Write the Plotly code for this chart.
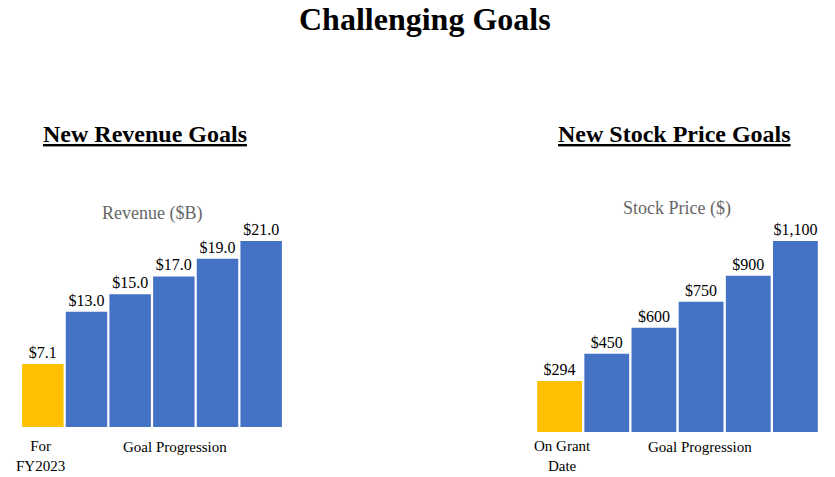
import plotly.graph_objects as go

W, H = 835, 477

rev_cats = ["FY2023", "G1", "G2", "G3", "G4", "G5"]
rev_vals = [7.1, 13.0, 15.0, 17.0, 19.0, 21.0]
stock_cats = ["Grant", "S1", "S2", "S3", "S4", "S5"]
stock_vals = [294, 450, 600, 750, 900, 1100]

YELLOW = "#FFC000"
BLUE = "#4472C4"
FONT = "Liberation Serif"

rev_colors = [YELLOW] + [BLUE] * (len(rev_vals) - 1)
stock_colors = [YELLOW] + [BLUE] * (len(stock_vals) - 1)


def fx(px):
    return px / W


def fy(py):
    return (H - py) / H


fig = go.Figure()
fig.add_trace(go.Bar(
    x=rev_cats, y=rev_vals, marker=dict(color=rev_colors, line=dict(width=0)),
    texttemplate="$%{y:.1f}", textposition="outside", cliponaxis=False,
    textfont=dict(family=FONT, size=16, color="black"),
    xaxis="x", yaxis="y", hoverinfo="skip"))
fig.add_trace(go.Bar(
    x=stock_cats, y=stock_vals, marker=dict(color=stock_colors, line=dict(width=0)),
    texttemplate="$%{y:,.0f}", textposition="outside", cliponaxis=False,
    textfont=dict(family=FONT, size=16, color="black"),
    xaxis="x2", yaxis="y2", hoverinfo="skip"))

axis_common = dict(showgrid=False, zeroline=False, showticklabels=False,
                   showline=False, ticks="", fixedrange=True)

fig.update_layout(
    width=W, height=H, margin=dict(l=0, r=0, t=0, b=0),
    paper_bgcolor="white", plot_bgcolor="white",
    showlegend=False, bargap=0.05,
    xaxis=dict(domain=[fx(21), fx(283)], range=[-0.5, 5.5], anchor="y", **axis_common),
    yaxis=dict(domain=[fy(427), fy(241)], range=[0, 21], anchor="x", **axis_common),
    xaxis2=dict(domain=[fx(536), fx(819)], range=[-0.5, 5.5], anchor="y2", **axis_common),
    yaxis2=dict(domain=[fy(432), fy(241)], range=[0, 1100], anchor="x2", **axis_common),
)

ann = []


def add_text(text, x, y, size, color="black", bold=False, underline=False):
    font = dict(family=FONT, size=size, color=color)
    if underline:
        font["lineposition"] = "under"
    ann.append(dict(text=("<b>%s</b>" % text) if bold else text,
                    x=fx(x), y=fy(y), xref="paper", yref="paper",
                    xanchor="center", yanchor="middle", showarrow=False, font=font))


add_text("Challenging Goals", 425, 19, 32, bold=True)
add_text("New Revenue Goals", 145, 134, 24, bold=True, underline=True)
add_text("New Stock Price Goals", 674, 134, 24, bold=True, underline=True)
add_text("Revenue ($B)", 152, 213, 18, color="#666666")
add_text("Stock Price ($)", 677, 208, 18, color="#666666")
add_text("For<br>FY2023", 40, 456, 15)
add_text("Goal Progression", 175, 447, 15)
add_text("On Grant<br>Date", 562, 456, 15)
add_text("Goal Progression", 700, 447, 15)

fig.update_layout(annotations=ann)
fig.write_html("out.html")
